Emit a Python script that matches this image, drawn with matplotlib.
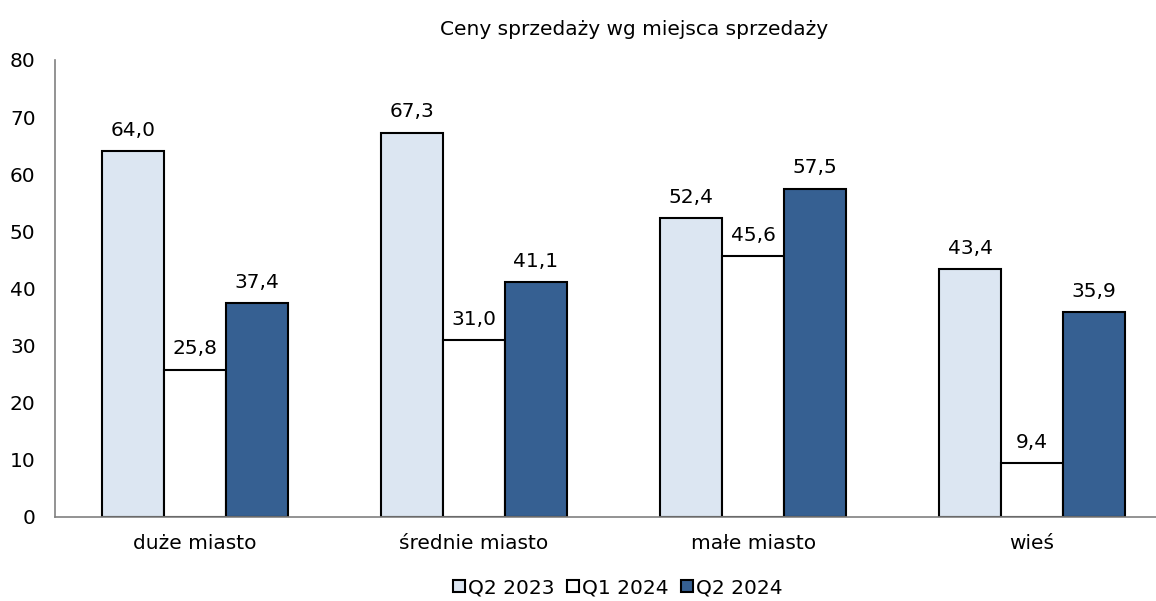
import matplotlib.pyplot as plt
import numpy as np

plt.rcParams["font.family"] = ["DejaVu Sans"]

categories = ["duże miasto", "średnie miasto", "małe miasto", "wieś"]
series_names = ["Q2 2023", "Q1 2024", "Q2 2024"]
q2_2023 = [64.0, 67.3, 52.4, 43.4]
q1_2024 = [25.8, 31.0, 45.6, 9.4]
q2_2024 = [37.4, 41.1, 57.5, 35.9]
colors = ["#dce6f2", "#ffffff", "#366092"]

fs = 14.5

fig = plt.figure(figsize=(11.56, 6.01), dpi=100)
ax = fig.add_axes([0.0476, 0.1398, 0.9524, 0.7604])

x = np.arange(len(categories))
width = 0.222

for i, (values, name, color) in enumerate(zip([q2_2023, q1_2024, q2_2024], series_names, colors)):
    bars = ax.bar(
        x + (i - 1) * width,
        values,
        width,
        color=color,
        edgecolor="black",
        linewidth=1.5,
        label=name,
    )
    ax.bar_label(
        bars,
        labels=[f"{v:.1f}".replace(".", ",") for v in values],
        padding=8,
        fontsize=fs,
    )

ax.set_xlim(-0.502, 3.444)
ax.set_ylim(0, 80)
ax.set_yticks(range(0, 81, 10))
ax.set_xticks(x)
ax.set_xticklabels(categories)
ax.tick_params(axis="both", length=0, labelsize=fs)
ax.tick_params(axis="x", pad=12)
ax.tick_params(axis="y", pad=14)

for side in ["top", "right"]:
    ax.spines[side].set_visible(False)
ax.spines["left"].set_color("#808080")
ax.spines["bottom"].set_color("#808080")
ax.spines["left"].set_linewidth(1.2)
ax.spines["bottom"].set_linewidth(1.2)

ax.set_title("Ceny sprzedaży wg miejsca sprzedaży", fontsize=fs, pad=18, x=0.526)

ax.legend(
    loc="lower center",
    bbox_to_anchor=(0.511, -0.215),
    ncol=3,
    frameon=False,
    fontsize=fs,
    handlelength=0.6,
    handleheight=0.6,
    handletextpad=0.15,
    columnspacing=0.6,
)

fig.savefig("out.png", dpi=100)
